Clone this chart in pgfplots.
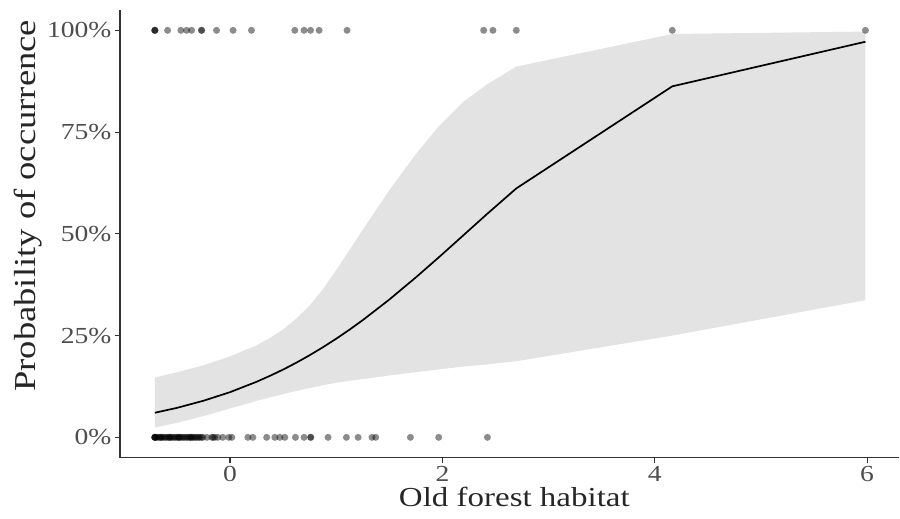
\documentclass[border=0pt]{standalone}
\usepackage{fontspec}
\setmainfont{Liberation Serif}[FakeStretch=1.2]
\usepackage{pgfplots}
\pgfplotsset{compat=1.18}
\usepgfplotslibrary{fillbetween}
\definecolor{ribbon}{HTML}{E3E3E3}
\definecolor{tickgray}{HTML}{4D4D4D}
\definecolor{axgray}{HTML}{333333}

\pgfplotstableread{
x fit lo hi
-0.708 0.0604 0.024 0.147
-0.5 0.0724 0.0356 0.160
-0.25 0.0899 0.052 0.177
0 0.111 0.071 0.199
0.25 0.1365 0.0895 0.226
0.375 0.151 0.098 0.244
0.5 0.1665 0.106 0.265
0.625 0.1835 0.114 0.292
0.75 0.2018 0.121 0.324
0.875 0.2214 0.128 0.364
1.0 0.2423 0.134 0.411
1.125 0.2645 0.139 0.460
1.25 0.288 0.143 0.510
1.5 0.3385 0.152 0.607
1.75 0.393 0.160 0.696
1.965 0.442 0.167 0.764
2.2 0.497 0.174 0.825
2.424 0.5496 0.179 0.868
2.476 0.5614 0.181 0.876
2.696 0.6116 0.187 0.911
4.165 0.8624 0.250 0.991
5.984 0.972 0.337 0.997
}\fittab

\pgfplotstableread{
x y
-0.708 1
-0.708 1
-0.708 1
-0.588 1
-0.463 1
-0.409 1
-0.362 1
-0.268 1
-0.268 1
-0.127 1
0.029 1
0.202 1
0.610 1
0.697 1
0.758 1
0.839 1
1.102 1
2.389 1
2.476 1
2.696 1
4.165 1
5.984 1
}\presence

\pgfplotstableread{
x y
-0.708 0
-0.708 0
-0.708 0
-0.708 0
-0.694 0
-0.680 0
-0.665 0
-0.651 0
-0.651 0
-0.637 0
-0.623 0
-0.609 0
-0.595 0
-0.581 0
-0.567 0
-0.567 0
-0.552 0
-0.538 0
-0.524 0
-0.510 0
-0.496 0
-0.482 0
-0.482 0
-0.468 0
-0.454 0
-0.440 0
-0.426 0
-0.411 0
-0.397 0
-0.383 0
-0.369 0
-0.369 0
-0.355 0
-0.341 0
-0.327 0
-0.313 0
-0.298 0
-0.284 0
-0.270 0
-0.256 0
-0.218 0
-0.171 0
-0.160 0
-0.143 0
-0.115 0
-0.068 0
-0.011 0
0.017 0
0.168 0
0.215 0
0.345 0
0.422 0
0.469 0
0.516 0
0.616 0
0.697 0
0.760 0
0.760 0
0.923 0
1.096 0
1.206 0
1.337 0
1.372 0
1.699 0
1.965 0
2.424 0
}\absence

\begin{document}
\begin{tikzpicture}
\begin{axis}[
  at={(120pt,61pt)}, anchor=south west,
  scale only axis, width=780pt, height=448pt,
  xmin=-1.037, xmax=6.304, ymin=-0.05, ymax=1.05,
  axis x line*=bottom, axis y line*=left,
  axis line style={axgray, line width=1.2pt},
  xtick={0,2,4,6}, ytick={0,0.25,0.5,0.75,1},
  yticklabels={0\%,25\%,50\%,75\%,100\%},
  tick align=outside, major tick length=5pt,
  tick style={axgray, line width=1.1pt},
  ticklabel style={font=\fontsize{23}{24}\selectfont, text=tickgray},
  /pgf/number format/assume math mode=true,
  xlabel={Old forest habitat},
  ylabel={Probability of occurrence},
  xlabel style={at={([yshift=-49pt]axis description cs:0.506,0)}, anchor=base, font=\fontsize{27.5}{30}\selectfont, text=black!85},
  ylabel style={at={([xshift=-84pt]axis description cs:0,0.5625)}, anchor=base, font=\fontsize{30.5}{32}\selectfont, text=black!85},
]
\addplot[draw=none, name path=up, forget plot] table[x=x, y=hi] {\fittab};
\addplot[draw=none, name path=lo, forget plot] table[x=x, y=lo] {\fittab};
\addplot[fill=ribbon, draw=none] fill between[of=up and lo];
\addplot[black, line width=1.7pt] table[x=x, y=fit] {\fittab};
\addplot[only marks, mark=*, mark size=3.5pt, color=black, opacity=0.45, mark options={draw opacity=0}] table {\presence};
\addplot[only marks, mark=*, mark size=3.5pt, color=black, opacity=0.45, mark options={draw opacity=0}] table {\absence};
\end{axis}
\path (0,0) rectangle (900pt,519pt);
\end{tikzpicture}
\end{document}
